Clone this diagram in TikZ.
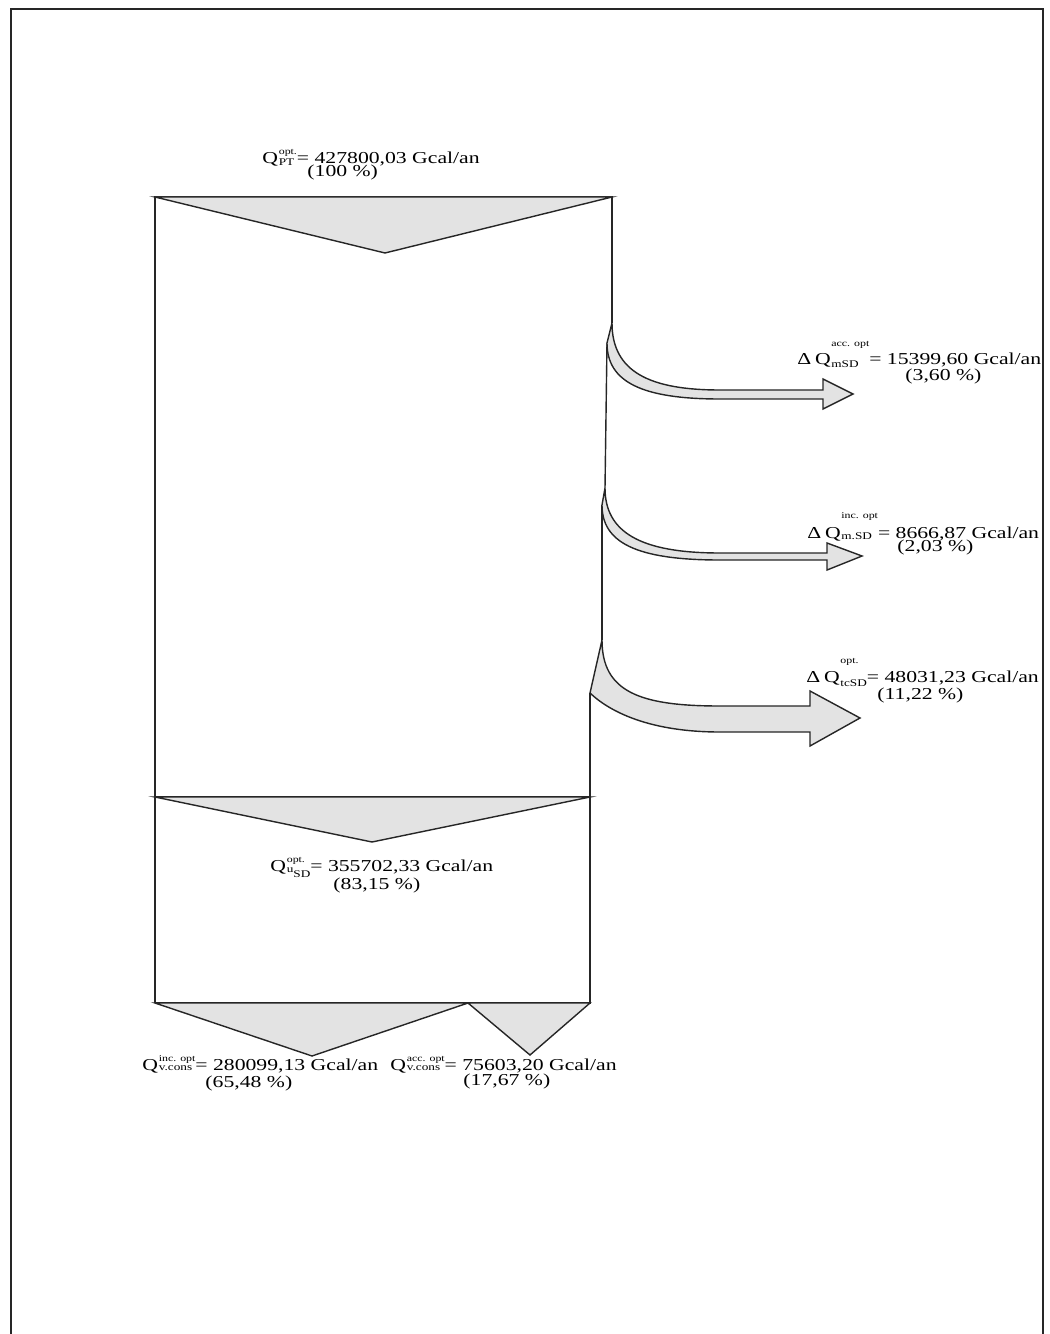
\documentclass[tikz,border=0pt]{standalone}
\usepackage{fontspec}
\setmainfont{Liberation Serif}
\usepackage{tikz}
\usetikzlibrary{positioning}
\tikzset{
    % Colors
    flowFill/.style={fill=gray!22},
    % Shapes
    edge/.style={draw=black!85, line width=0.8pt, line join=miter},
    band/.style={edge, flowFill},
    % Labels
    val/.style={anchor=base west, inner sep=0pt, xscale=1.3, font=\fontsize{9.5}{10}\selectfont},
    pct/.style={val}
}
% Q with stacked upper and lower index: sup, sub, raise of sup, raise of sub
\newcommand{\flux}[4]{%
  Q\kern0.3pt%
  \setbox0=\hbox{\raisebox{#3}{\fontsize{5.2}{5.2}\selectfont #1}}%
  \setbox2=\hbox{\raisebox{#4}{\fontsize{5.8}{5.8}\selectfont #2}}%
  \ifdim\wd0>\wd2 \rlap{\box2}\box0\else\rlap{\box0}\box2\fi}

\begin{document}
\begin{tikzpicture}[x=0.02cm, y=-0.02cm]

\useasboundingbox (0,0) rectangle (1049,1334);

% frame
\draw[edge] (11,1334) -- (11,9) -- (1043,9) -- (1043,1334);

% main column
\draw[edge] (155,1003) -- (155,197) -- (612,197) -- (612,323);
\draw[edge] (607,343) -- (605,488);
\draw[edge] (602,505) -- (602,640);
\draw[edge] (590,693) -- (590,1003) -- (155,1003);
\draw[edge] (155,797) -- (590,797);

% inflow and split triangles
\draw[band] (155,197) -- (385,253) -- (612,197) -- cycle;
\draw[band] (155,797) -- (372,842) -- (590,797) -- cycle;
\draw[band] (155,1003) -- (312,1056) -- (468,1003) -- cycle;
\draw[band] (468,1003) -- (530,1055) -- (590,1003) -- cycle;

% losses
\draw[band] (612,323) .. controls (612,372) and (650,390) .. (720,390) -- (823,390) -- (823,379)
    -- (853,394) -- (823,409) -- (823,399) -- (720,399) .. controls (642,399) and (607,382) .. (607,343) -- cycle;
\draw[band] (605,488) .. controls (605,532) and (640,553) .. (720,553) -- (827,553) -- (827,543)
    -- (862,556) -- (827,570) -- (827,560) -- (720,560) .. controls (635,560) and (602,542) .. (602,505) -- cycle;
\draw[band] (602,640) .. controls (602,692) and (640,706) .. (720,706) -- (810,706) -- (810,691)
    -- (860,718) -- (810,746) -- (810,732) -- (720,732) .. controls (650,732) and (610,712) .. (590,693) -- cycle;

% values
\node[val] (pt) at (262,164) {\flux{opt.}{PT}{5.5pt}{-1pt}= 427800,03 Gcal/an};
\node[pct] (ptPct) at (307,177) {(100 \%)};

\node[val] (accM) at (797,365) {Δ\,\flux{acc. opt}{mSD}{10.5pt}{-1.5pt} = 15399,60 Gcal/an};
\node[pct] (accMPct) at (905,380) {(3,60 \%)};

\node[val] (incM) at (807,538) {Δ\,\flux{inc. opt}{m.SD}{11pt}{-1pt} = 8666,87 Gcal/an};
\node[pct] (incMPct) at (897,551) {(2,03 \%)};

\node[val] (tcSD) at (806,682) {Δ\,\flux{opt.}{tcSD}{10.5pt}{-2.5pt}= 48031,23 Gcal/an};
\node[pct] (tcSDPct) at (877,699) {(11,22 \%)};

\node[val] (uSD) at (270,871) {\flux{opt.}{u\raisebox{-2.5pt}{SD}}{5pt}{-1pt}= 355702,33 Gcal/an};
\node[pct] (uSDPct) at (333,889) {(83,15 \%)};

\node[val] (incV) at (142,1070) {\flux{inc. opt}{v.cons}{5pt}{0pt} = 280099,13 Gcal/an};
\node[pct] (incVPct) at (205,1087) {(65,48 \%)};

\node[val] (accV) at (390,1070) {\flux{acc. opt}{v.cons}{5pt}{0pt} = 75603,20 Gcal/an};
\node[pct] (accVPct) at (463,1085) {(17,67 \%)};

\end{tikzpicture}
\end{document}
